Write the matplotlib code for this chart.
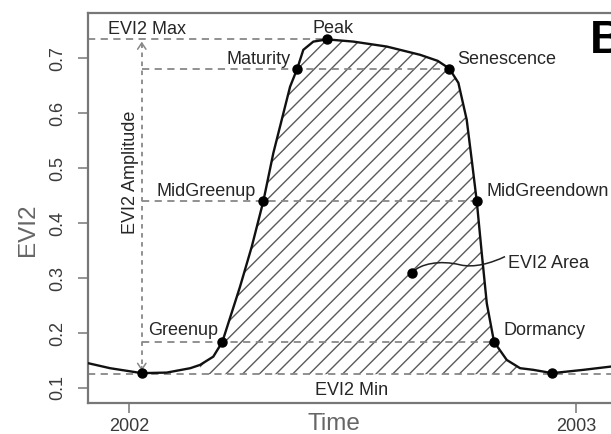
import matplotlib
matplotlib.use("Agg")
import matplotlib.pyplot as plt
import numpy as np
from matplotlib.path import Path
from matplotlib.patches import PathPatch

plt.rcParams['font.family'] = ['Liberation Sans', 'DejaVu Sans']
plt.rcParams['hatch.linewidth'] = 1.0

# Smoothed EVI2 time series over one growing season (days since 1 Jan 2002)
days = np.array([-33.2, -15.5, 10.4, 30.8, 50.0, 58.0, 68.8, 76.2, 90.6, 100.2, 109.7,
                 117.8, 124.7, 131.5, 137.4, 142.3, 150.5, 161.7, 183.1, 210.4,
                 237.6, 252.0, 261.5, 268.9, 275.7, 279.8, 283.9, 288.0, 292.1, 298.0,
                 308.4, 319.3, 330.1, 345.6, 371.0, 393.6, 417.0])
evi2 = np.array([0.145, 0.136, 0.127, 0.128, 0.136, 0.142, 0.157, 0.184, 0.284, 0.357, 0.440,
                 0.527, 0.588, 0.648, 0.681, 0.715, 0.730, 0.734, 0.730, 0.721,
                 0.706, 0.695, 0.681, 0.655, 0.588, 0.515, 0.440, 0.345, 0.254, 0.184,
                 0.151, 0.136, 0.133, 0.127, 0.133, 0.139, 0.141])

# Phenological transition dates and their EVI2 values
phase_names = ["Greenup", "MidGreenup", "Maturity", "Peak",
               "Senescence", "MidGreendown", "Dormancy"]
phase_days = [76.2, 109.7, 137.4, 161.7, 261.5, 283.9, 298.0]
phase_vals = [0.184, 0.440, 0.681, 0.734, 0.681, 0.440, 0.184]

min_days = [10.4, 345.6]
min_vals = [0.127, 0.127]

evi2_max = 0.734
evi2_min = 0.125
area_point = (231.3, 0.310)

year_ticks = [0, 365]
year_labels = ["2002", "2003"]
y_ticks = [0.1, 0.2, 0.3, 0.4, 0.5, 0.6, 0.7]

W, H = 611, 434
fig = plt.figure(figsize=(W / 100, H / 100), dpi=100)
ax = fig.add_axes([88 / W, 31 / H, (640 - 88) / W, 390 / H])
ax.set_xlim(-33.5, 417.2)
ax.set_ylim(0.0727, 0.782)

spine_c = '#777777'
dash_c = '#888888'
text_c = '#262626'

# hatched area between curve and baseline
mask = (days >= 58.0) & (days <= 319.3)
ax.fill_between(days, evi2, evi2_min, where=mask, facecolor='none',
                edgecolor='#5a5a5a', hatch='//', linewidth=0, zorder=1)

dash = dict(color=dash_c, lw=1.3, dashes=(4, 3), zorder=2)
x_amp = min_days[0]
# EVI2 max / min reference lines
ax.plot([-33.5, phase_days[3]], [evi2_max, evi2_max], **dash)
ax.axhline(evi2_min, **dash)
# transition reference lines
ax.plot([x_amp, phase_days[4]], [phase_vals[2], phase_vals[4]], **dash)
ax.plot([x_amp, phase_days[5]], [phase_vals[1], phase_vals[5]], **dash)
ax.plot([x_amp, phase_days[6]], [phase_vals[0], phase_vals[6]], **dash)

# amplitude arrow
ax.plot([x_amp, x_amp], [min_vals[0], evi2_max], color=dash_c, lw=1.3,
        dashes=(2.5, 2.5), zorder=2)
for tip, tail in [(evi2_max - 0.004, evi2_max - 0.012), (min_vals[0] + 0.004, min_vals[0] + 0.012)]:
    ax.annotate('', xy=(x_amp, tip), xytext=(x_amp, tail),
                arrowprops=dict(arrowstyle='->,head_length=0.45,head_width=0.3',
                                color=dash_c, lw=1.1, shrinkA=0, shrinkB=0))

# curve and points
ax.plot(days, evi2, color='#111111', lw=1.7, zorder=3,
        solid_capstyle='round', solid_joinstyle='round')
ax.plot(phase_days + min_days + [area_point[0]],
        phase_vals + min_vals + [area_point[1]],
        'o', color='black', ms=6.5, zorder=4)

# leader from area point to its label
verts = [area_point, (237.6, 0.326), (253.9, 0.333), (270.3, 0.324),
         (281.7, 0.318), (295.6, 0.327), (307.0, 0.339)]
codes = [Path.MOVETO, Path.CURVE4, Path.CURVE4, Path.CURVE4,
         Path.CURVE4, Path.CURVE4, Path.CURVE4]
ax.add_patch(PathPatch(Path(verts, codes), facecolor='none',
                       edgecolor='#222222', lw=1.1, zorder=3))

fs = 13
px = 0.72  # points per pixel
offsets = {
    "Greenup": (-4, 6.7, 'right'),
    "MidGreenup": (-8, 5, 'right'),
    "Maturity": (-7, 4.3, 'right'),
    "Peak": (-15, 6.7, 'left'),
    "Senescence": (8, 4.3, 'left'),
    "MidGreendown": (10, 5, 'left'),
    "Dormancy": (9, 6.7, 'left'),
}
for name, d, v in zip(phase_names, phase_days, phase_vals):
    dx, dy, ha = offsets[name]
    ax.annotate(name, (d, v), xytext=(dx * px, dy * px), textcoords='offset points',
                ha=ha, va='baseline', fontsize=fs, color=text_c, zorder=5)

ax.text(-17.1, 0.744, "EVI2 Max", fontsize=fs, color=text_c, va='baseline')
ax.text(151.9, 0.0873, "EVI2 Min", fontsize=fs, color=text_c, va='baseline')
ax.text(309.5, 0.326, "EVI2 Area", fontsize=fs, color=text_c, va='center')
ax.text(4.9, 0.493, "EVI2 Amplitude", fontsize=fs, color=text_c, rotation=90,
        rotation_mode='anchor', ha='center', va='baseline')

# axes styling
for s in ['left', 'bottom', 'top', 'right']:
    ax.spines[s].set_color(spine_c)
    ax.spines[s].set_linewidth(1.6)
ax.set_xticks(year_ticks, year_labels)
ax.set_yticks(y_ticks, [f"{t:.1f}" for t in y_ticks])
ax.tick_params(axis='both', length=7.2, width=1.1, color=spine_c,
               labelsize=13, labelcolor='#3a3a3a')
ax.tick_params(axis='x', pad=3.6)
ax.tick_params(axis='y', pad=8.6)
for lbl in ax.get_yticklabels():
    lbl.set_rotation(90)
    lbl.set_va('center')

fig.text(334 / W, (H - 430) / H, "Time", fontsize=17.5, color='#666666',
         ha='center', va='baseline')
fig.text(28 / W, (H - 230) / H, "EVI2", fontsize=17.5, color='#666666',
         ha='center', va='center', rotation=90)
fig.text(590 / W, (H - 53) / H, "B", fontsize=33, fontweight='bold',
         color='black', ha='left', va='baseline')

fig.savefig("out.png", dpi=100)
